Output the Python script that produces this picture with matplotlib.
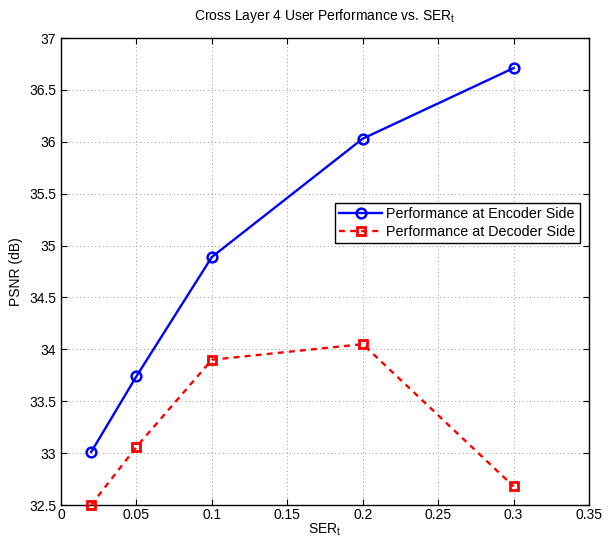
import matplotlib
matplotlib.use("Agg")
import matplotlib.pyplot as plt

plt.rcParams['font.family'] = ['Liberation Sans', 'DejaVu Sans']
plt.rcParams['mathtext.fontset'] = 'custom'
plt.rcParams['mathtext.rm'] = 'Liberation Sans'
plt.rcParams['mathtext.it'] = 'Liberation Sans'

ser = [0.02, 0.05, 0.1, 0.2, 0.3]
encoder = [33.01, 33.74, 34.89, 36.03, 36.71]
decoder = [32.50, 33.06, 33.90, 34.05, 32.68]
xticks = [0, 0.05, 0.1, 0.15, 0.2, 0.25, 0.3, 0.35]
xticklabels = ['0', '0.05', '0.1', '0.15', '0.2', '0.25', '0.3', '0.35']
yticks = [32.5, 33, 33.5, 34, 34.5, 35, 35.5, 36, 36.5, 37]
yticklabels = ['32.5', '33', '33.5', '34', '34.5', '35', '35.5', '36', '36.5', '37']

fig = plt.figure(figsize=(6.11, 5.40), dpi=100)
ax = fig.add_axes([0.0998, 0.0648, 0.8642, 0.8648])

ax.plot(ser, encoder, '-o', color='#0000ff', linewidth=1.7, markersize=7,
        markerfacecolor='none', markeredgewidth=1.8, label='Performance at Encoder Side', clip_on=False, zorder=3)
ax.plot(ser, decoder, '--s', color='#ff0000', linewidth=1.7, markersize=6,
        markerfacecolor='none', markeredgewidth=2, dashes=(2.5, 2.2), label='Performance at Decoder Side', clip_on=False, zorder=3)

ax.set_xlim(0, 0.35)
ax.set_ylim(32.5, 37)
ax.set_xticks(xticks)
ax.set_xticklabels(xticklabels)
ax.set_yticks(yticks)
ax.set_yticklabels(yticklabels)
ax.tick_params(direction='in', length=4, labelsize=10, top=True, right=True, width=0.8)
ax.tick_params(axis='x', pad=2)
ax.grid(True, linestyle=(0, (1, 3.5)), color='#777777', linewidth=0.6)
for s in ax.spines.values():
    s.set_linewidth(1.0)
    s.set_color('black')

ax.set_xlabel(r'SER$_{\mathregular{t}}$', fontsize=10, labelpad=0)
ax.set_ylabel('PSNR (dB)', fontsize=10)
ax.set_title(r'Cross Layer 4 User Performance vs. SER$_{\mathregular{t}}$', fontsize=10, pad=13)

leg = ax.legend(loc='upper right', bbox_to_anchor=(0.983, 0.647), fontsize=10.3,
                frameon=True, fancybox=False, edgecolor='black', framealpha=1,
                borderpad=0.3, handlelength=3.0, handletextpad=0.3, labelspacing=0.25,
                borderaxespad=0)
leg.get_frame().set_linewidth(1.0)

fig.savefig('out.png', dpi=100)
